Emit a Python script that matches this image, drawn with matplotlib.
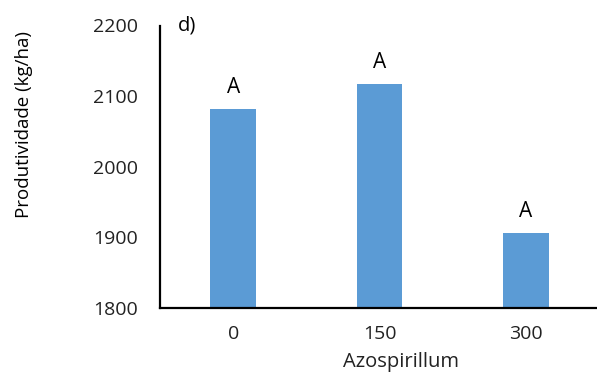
import numpy as np
import matplotlib.pyplot as plt

plt.rcParams['font.family'] = ['Open Sans', 'DejaVu Sans']

doses = ['0', '150', '300']
produtividade = [2082, 2117, 1906]
letras = ['A', 'A', 'A']

W, H = 597, 372
fig = plt.figure(figsize=(W / 100, H / 100), dpi=100)
ax = fig.add_axes([160 / W, 1 - 308 / H, 439 / W, 282.5 / H])

x = np.arange(len(doses))
bars = ax.bar(x, [v - 1800 for v in produtividade], bottom=1800,
              width=0.314, color='#5B9BD5')

for xi, v, l in zip(x, produtividade, letras):
    ax.annotate(l, (xi, v), xytext=(0, 8), textcoords='offset points',
                ha='center', va='bottom', fontsize=15)

ax.set_xlim(-0.5, 2.5)
ax.set_ylim(1800, 2200)
ax.set_yticks([1800, 1900, 2000, 2100, 2200])
ax.set_xticks(x)
ax.set_xticklabels(doses)
ax.tick_params(axis='both', length=0, labelsize=14, colors='#222222')
ax.tick_params(axis='x', pad=12)
ax.tick_params(axis='y', pad=16)

for s in ['top', 'right']:
    ax.spines[s].set_visible(False)
ax.spines['left'].set_linewidth(1.6)
ax.spines['bottom'].set_linewidth(1.6)

ax.text(0.04, 1.0, 'd)', transform=ax.transAxes, fontsize=14.5,
        ha='left', va='center')

fig.text(24 / W, 1 - 125 / H, 'Produtividade (kg/ha)', rotation=90,
         ha='center', va='center', fontsize=13.5)
fig.text(401 / W, 1 - 352 / H, 'Azospirillum', ha='center', va='top',
         fontsize=14.5, color='#222222')

plt.savefig('out.png', dpi=100)
plt.close()
